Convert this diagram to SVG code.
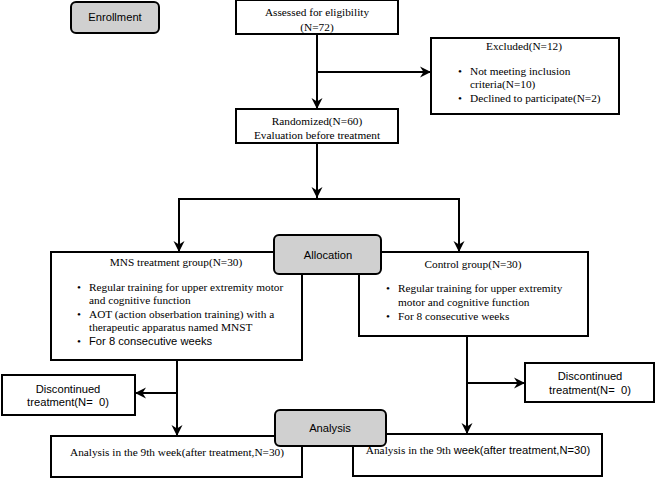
<svg xmlns="http://www.w3.org/2000/svg" width="656" height="478" viewBox="0 0 656 478">
<defs>
<marker id="ah" markerUnits="userSpaceOnUse" markerWidth="12" markerHeight="12" refX="11" refY="6" orient="auto" viewBox="0 0 12 12">
<path d="M0,0.5 L11,6 L0,11.5 L3.5,6 Z" fill="#000"/>
</marker>
<style>
.box{fill:#fff;stroke:#000;stroke-width:2}
.lbl{fill:#d0d0d0;stroke:#000;stroke-width:2}
.s{font-family:"Liberation Serif","Times New Roman",serif;font-size:11.3px;fill:#000}
.a{font-family:"Liberation Sans",Arial,sans-serif;font-size:11.2px;fill:#000}
.c{text-anchor:middle}
.p{white-space:pre}
.ln{fill:none;stroke:#000;stroke-width:2}
</style>
</defs>
<rect width="656" height="478" fill="#fff"/>
<g id="connectors">
<path class="ln" d="M317,34 V109" marker-end="url(#ah)"/>
<path class="ln" d="M317,72 H431" marker-end="url(#ah)"/>
<path class="ln" d="M317,143 V198" marker-end="url(#ah)"/>
<path class="ln" d="M178,199 H460"/>
<path class="ln" d="M179,199 V252" marker-end="url(#ah)"/>
<path class="ln" d="M459,199 V252" marker-end="url(#ah)"/>
<path class="ln" d="M177,360 V436" marker-end="url(#ah)"/>
<path class="ln" d="M177,393 H135" marker-end="url(#ah)"/>
<path class="ln" d="M467,336 V434" marker-end="url(#ah)"/>
<path class="ln" d="M467,383 H525" marker-end="url(#ah)"/>
</g>
<g id="enrollment">
<rect class="lbl" x="71" y="2" width="88" height="31" rx="5"/>
<text class="a c" x="115" y="21">Enrollment</text>
</g>
<g id="assessed">
<rect class="box" x="236" y="0" width="162" height="34"/>
<text class="s c" x="317" y="16">Assessed for eligibility</text>
<text class="s c" x="317" y="31">(N=72)</text>
</g>
<g id="excluded">
<rect class="box" x="431" y="38" width="188" height="76"/>
<text class="s c" x="524" y="50">Excluded(N=12)</text>
<text class="s" x="458" y="75">•</text>
<text class="s" x="470" y="75">Not meeting inclusion</text>
<text class="s" x="470" y="88">criteria(N=10)</text>
<text class="s" x="458" y="102">•</text>
<text class="s" x="470" y="102">Declined to participate(N=2)</text>
</g>
<g id="randomized">
<rect class="box" x="236" y="109" width="162" height="34"/>
<text class="s c" x="317" y="125">Randomized(N=60)</text>
<text class="s c" x="317" y="139">Evaluation before treatment</text>
</g>
<g id="mns">
<rect class="box" x="51" y="252" width="251" height="108"/>
<text class="s c" x="176" y="266">MNS treatment group(N=30)</text>
<text class="s" x="77" y="291">•</text>
<text class="s" x="89" y="291">Regular training for upper extremity motor</text>
<text class="s" x="89" y="304">and cognitive function</text>
<text class="s" x="77" y="318">•</text>
<text class="s" x="89" y="318">AOT (action obserbation training) with a</text>
<text class="s" x="89" y="331">therapeutic apparatus named MNST</text>
<text class="s" x="77" y="345">•</text>
<text class="a" x="89" y="345">For 8 consecutive weeks</text>
</g>
<g id="control">
<rect class="box" x="359" y="252" width="229" height="84"/>
<text class="s c" x="473" y="268">Control group(N=30)</text>
<text class="s" x="386" y="292">•</text>
<text class="s" x="398" y="292">Regular training for upper extremity</text>
<text class="s" x="398" y="306">motor and cognitive function</text>
<text class="s" x="386" y="320">•</text>
<text class="s" x="398" y="320">For 8 consecutive weeks</text>
</g>
<g id="allocation">
<rect class="lbl" x="274" y="235" width="107" height="39" rx="5"/>
<text class="a c" x="328" y="259">Allocation</text>
</g>
<g id="disc-left">
<rect class="box" x="2" y="375" width="133" height="40"/>
<text class="a c" x="68" y="393">Discontinued</text>
<text class="a c p" x="68" y="406">treatment(N=  0)</text>
</g>
<g id="disc-right">
<rect class="box" x="525" y="363" width="129" height="39"/>
<text class="a c" x="590" y="380">Discontinued</text>
<text class="a c p" x="590" y="394">treatment(N=  0)</text>
</g>
<g id="analysis-left">
<rect class="box" x="51" y="436" width="251" height="41"/>
<text class="s c" x="177" y="456">Analysis in the 9th week(after treatment,N=30)</text>
</g>
<g id="analysis-right">
<rect class="box" x="353" y="434" width="249" height="42"/>
<text class="s c" x="478" y="454">Analysis in the 9th <tspan class="a">week(after treatment,N=30)</tspan></text>
</g>
<g id="analysis">
<rect class="lbl" x="275" y="410" width="111" height="36" rx="5"/>
<text class="a c" x="330" y="432">Analysis</text>
</g>
</svg>
